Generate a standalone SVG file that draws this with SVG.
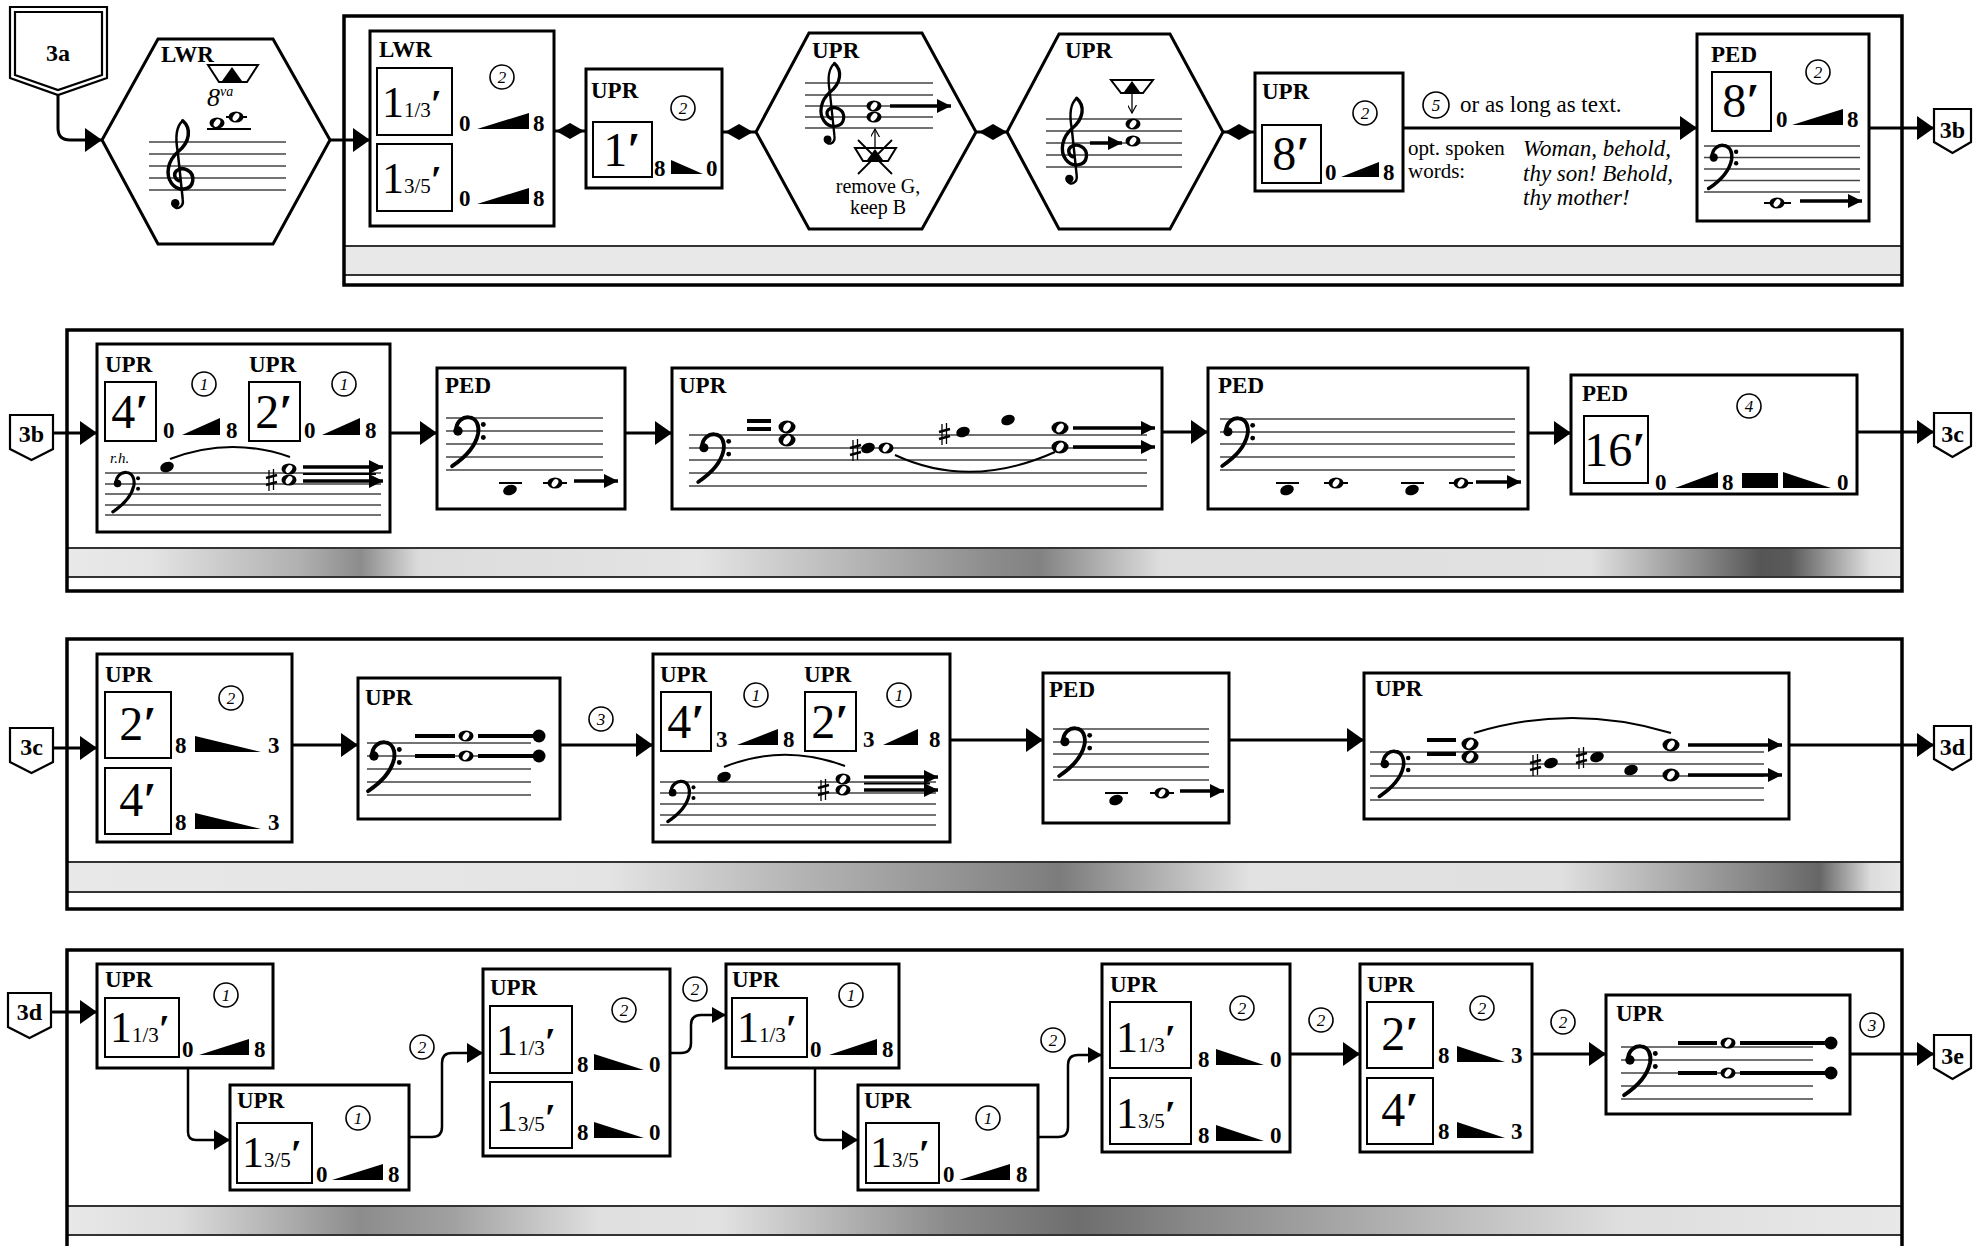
<svg xmlns="http://www.w3.org/2000/svg" width="1984" height="1246" viewBox="0 0 1984 1246">
<style>
.fr{fill:none;stroke:#000;stroke-width:3.5}
.bx{fill:#fff;stroke:#000;stroke-width:3}
.hx{fill:#fff;stroke:#000;stroke-width:3}
.ib{fill:none;stroke:#000;stroke-width:2}
.t{font-family:"Liberation Serif","DejaVu Serif",serif;fill:#000}
.lb{font-size:23px;font-weight:bold}
.n{font-size:23px;font-weight:bold}
.big{font-size:48px;text-anchor:middle}
.b44{font-size:44px}
.sub{font-size:21px}
.pr{font-weight:bold}
.ci{fill:#fff;stroke:#000;stroke-width:1.6}
.cn{font-size:17px;font-style:italic;text-anchor:middle}
.st{stroke:#444;stroke-width:1.5;fill:none}
.cx{fill:none;stroke:#000;stroke-width:3}
.cs{fill:none;stroke:#000;stroke-width:2.5}
.bd{stroke:#333;stroke-width:2;fill:none}
.ml{stroke:#000;stroke-width:3.5;fill:none}
.tl{stroke:#000;stroke-width:4;fill:none}
.sl{stroke:#000;stroke-width:2;fill:none}
.bg{font-size:24px;font-weight:bold;text-anchor:middle}
.bdg{fill:#fff;stroke:#000;stroke-width:2.2}
</style>
<defs>
<marker id="ah" viewBox="0 0 17 24" markerWidth="17" markerHeight="24" refX="17" refY="12" orient="auto" markerUnits="userSpaceOnUse"><path d="M0,0L17,12L0,24z"/></marker>
<marker id="ah2" viewBox="0 0 16 20" markerWidth="16" markerHeight="20" refX="16" refY="10" orient="auto" markerUnits="userSpaceOnUse"><path d="M0,0L16,10L0,20z"/></marker>
<marker id="ah3" viewBox="0 0 14 16" markerWidth="14" markerHeight="16" refX="14" refY="8" orient="auto" markerUnits="userSpaceOnUse"><path d="M0,0L14,8L0,16z"/></marker>
<marker id="mh" viewBox="0 0 12 12" markerWidth="14" markerHeight="14" refX="12" refY="6" orient="auto" markerUnits="userSpaceOnUse"><path d="M0,0L12,6L0,12z"/></marker>
<marker id="oh" viewBox="0 0 10 10" markerWidth="9" markerHeight="9" refX="9" refY="5" orient="auto" markerUnits="userSpaceOnUse"><path d="M0,0L9,5L0,10" fill="none" stroke="#000" stroke-width="1.3"/></marker>
<g id="gc">
<path d="M3,-17C10,-11 9,0 -1,8C-9,15 -11,26 -6,33C-1,40 10,39 11,31C12,23 3,19 -2,23C-5,26 -3,30 0,31" fill="none" stroke="#000" stroke-width="2.8" stroke-linecap="round"/>
<path d="M3,-17C-3,-12 -3,-3 -1,8L3,46C4,53 -3,55 -5,50" fill="none" stroke="#000" stroke-width="2" stroke-linecap="round"/>
<circle cx="-3" cy="49" r="3.4"/>
</g>
<g id="fc">
<path d="M0,10C0,2 6,-1 10,-0.5C16,0 18,6 17,12C15,22 6,31 -3,37" fill="none" stroke="#000" stroke-width="3" stroke-linecap="round"/>
<circle cx="1.5" cy="10" r="3.6"/>
<circle cx="21" cy="5" r="1.9"/>
<circle cx="21" cy="15" r="1.9"/>
</g>
<g id="wn"><ellipse rx="7.5" ry="5.5"/><ellipse rx="2.8" ry="4.2" transform="rotate(35)" fill="#fff"/></g>
<g id="wnb"><ellipse rx="8.5" ry="6.5"/><ellipse rx="3.2" ry="5" transform="rotate(35)" fill="#fff"/></g>
<g id="fn"><ellipse rx="7" ry="5" transform="rotate(-20)"/></g>
<g id="sh" stroke="#000"><line x1="-2" y1="-10" x2="-2" y2="11" stroke-width="1.3"/><line x1="2.5" y1="-11" x2="2.5" y2="10" stroke-width="1.3"/><line x1="-5" y1="-2" x2="6" y2="-5" stroke-width="2.6"/><line x1="-5" y1="5" x2="6" y2="2" stroke-width="2.6"/></g>
<linearGradient id="g2" gradientUnits="userSpaceOnUse" x1="67" y1="0" x2="1902" y2="0">
<stop offset="0" stop-color="#e9e9e9"/><stop offset="0.045" stop-color="#e4e4e4"/><stop offset="0.127" stop-color="#b0b0b0"/><stop offset="0.16" stop-color="#8c8c8c"/><stop offset="0.192" stop-color="#dcdcdc"/><stop offset="0.345" stop-color="#e4e4e4"/><stop offset="0.508" stop-color="#8a8a8a"/><stop offset="0.53" stop-color="#828282"/><stop offset="0.596" stop-color="#dedede"/><stop offset="0.83" stop-color="#e2e2e2"/><stop offset="0.89" stop-color="#8a8a8a"/><stop offset="0.923" stop-color="#555"/><stop offset="0.939" stop-color="#5a5a5a"/><stop offset="0.983" stop-color="#e0e0e0"/><stop offset="1" stop-color="#e8e8e8"/>
</linearGradient>
<linearGradient id="g3" gradientUnits="userSpaceOnUse" x1="67" y1="0" x2="1902" y2="0">
<stop offset="0" stop-color="#e8e8e8"/><stop offset="0.294" stop-color="#e4e4e4"/><stop offset="0.399" stop-color="#b4b4b4"/><stop offset="0.508" stop-color="#8a8a8a"/><stop offset="0.541" stop-color="#7c7c7c"/><stop offset="0.645" stop-color="#e2e2e2"/><stop offset="0.814" stop-color="#e0e0e0"/><stop offset="0.934" stop-color="#7a7a7a"/><stop offset="0.955" stop-color="#666"/><stop offset="0.983" stop-color="#dcdcdc"/><stop offset="1" stop-color="#e8e8e8"/>
</linearGradient>
<linearGradient id="g4" gradientUnits="userSpaceOnUse" x1="67" y1="0" x2="1902" y2="0">
<stop offset="0" stop-color="#e8e8e8"/><stop offset="0.062" stop-color="#dcdcdc"/><stop offset="0.16" stop-color="#8c8c8c"/><stop offset="0.209" stop-color="#a0a0a0"/><stop offset="0.29" stop-color="#e0e0e0"/><stop offset="0.356" stop-color="#e2e2e2"/><stop offset="0.481" stop-color="#8a8a8a"/><stop offset="0.552" stop-color="#6e6e6e"/><stop offset="0.617" stop-color="#8a8a8a"/><stop offset="0.846" stop-color="#dedede"/><stop offset="1" stop-color="#e8e8e8"/>
</linearGradient>
</defs>
<rect width="1984" height="1246" fill="#fff"/>

<g id="frames">
<rect x="344" y="246" width="1558" height="29" fill="#e8e8e8"/><path class="bd" d="M344,246H1902M344,275H1902"/>
<rect class="fr" x="344" y="16" width="1558" height="269"/>
<rect x="67" y="548" width="1835" height="29" fill="url(#g2)"/><path class="bd" d="M67,548H1902M67,577H1902"/>
<rect class="fr" x="67" y="330" width="1835" height="261"/>
<rect x="67" y="862" width="1835" height="30" fill="url(#g3)"/><path class="bd" d="M67,862H1902M67,892H1902"/>
<rect class="fr" x="67" y="639" width="1835" height="270"/>
<rect x="67" y="1206" width="1835" height="29" fill="url(#g4)"/><path class="bd" d="M67,1206H1902M67,1235H1902"/>
<rect class="fr" x="67" y="950" width="1835" height="320"/>
</g>

<g id="connectors">
<path class="cx" d="M58,95V128Q58,140 70,140H102" marker-end="url(#ah)"/>
<path class="cx" d="M330,140H370" marker-end="url(#ah)"/>
<path class="cx" d="M554,131H586M722,132H756M976,132H1007M1223,132H1255"/>
<polygon points="556,131 570,123 584,131 570,139"/>
<polygon points="725,132 739,124 753,132 739,140"/>
<polygon points="979,132 993,124 1007,132 993,140"/>
<polygon points="1225,132 1239,124 1253,132 1239,140"/>
<path class="cx" d="M1403,128H1697" marker-end="url(#ah)"/>
<path class="cx" d="M1869,128H1934" marker-end="url(#ah)"/>
<path class="cx" d="M53,433H97" marker-end="url(#ah)"/>
<path class="cx" d="M390,433H437" marker-end="url(#ah)"/>
<path class="cx" d="M625,433H672" marker-end="url(#ah)"/>
<path class="cx" d="M1162,432H1208" marker-end="url(#ah)"/>
<path class="cx" d="M1528,433H1571" marker-end="url(#ah)"/>
<path class="cx" d="M1857,432H1934" marker-end="url(#ah)"/>
<path class="cx" d="M53,748H97" marker-end="url(#ah)"/>
<path class="cx" d="M292,745H358" marker-end="url(#ah)"/>
<path class="cx" d="M560,745H653" marker-end="url(#ah)"/>
<path class="cx" d="M950,740H1043" marker-end="url(#ah)"/>
<path class="cx" d="M1229,740H1364" marker-end="url(#ah)"/>
<path class="cx" d="M1789,745H1934" marker-end="url(#ah)"/>
<path class="cx" d="M51,1012H97" marker-end="url(#ah)"/>
<path class="cs" d="M188,1068V1132Q188,1140 196,1140H230" marker-end="url(#ah2)"/>
<path class="cs" d="M409,1137H432Q442,1137 442,1127V1063Q442,1053 452,1053H483" marker-end="url(#ah2)"/>
<path class="cs" d="M670,1053H681Q691,1053 691,1043V1025Q691,1015 701,1015H726" marker-end="url(#ah3)"/>
<path class="cs" d="M815,1068V1132Q815,1140 823,1140H858" marker-end="url(#ah2)"/>
<path class="cs" d="M1038,1137H1058Q1068,1137 1068,1127V1065Q1068,1055 1078,1055H1102" marker-end="url(#ah3)"/>
<path class="cx" d="M1290,1054H1360" marker-end="url(#ah)"/>
<path class="cx" d="M1532,1054H1606" marker-end="url(#ah)"/>
<path class="cx" d="M1850,1054H1934" marker-end="url(#ah)"/>
<g><circle class="ci" cx="1436" cy="105" r="13"/><text class="t cn" x="1436" y="111">5</text></g>
<text class="t" x="1460" y="112" font-size="23">or as long as text.</text>
<text class="t" x="1408" y="155" font-size="21">opt. spoken</text>
<text class="t" x="1408" y="178" font-size="21">words:</text>
<text class="t" x="1523" y="156" font-size="23" font-style="italic">Woman, behold,</text>
<text class="t" x="1523" y="181" font-size="23" font-style="italic">thy son! Behold,</text>
<text class="t" x="1523" y="205" font-size="23" font-style="italic">thy mother!</text>
<g><circle class="ci" cx="601" cy="719" r="12"/><text class="t cn" x="601" y="725">3</text></g>
<g><circle class="ci" cx="422" cy="1047" r="12"/><text class="t cn" x="422" y="1053">2</text></g>
<g><circle class="ci" cx="695" cy="989" r="12"/><text class="t cn" x="695" y="995">2</text></g>
<g><circle class="ci" cx="1053" cy="1040" r="12"/><text class="t cn" x="1053" y="1046">2</text></g>
<g><circle class="ci" cx="1321" cy="1020" r="12"/><text class="t cn" x="1321" y="1026">2</text></g>
<g><circle class="ci" cx="1563" cy="1022" r="12"/><text class="t cn" x="1563" y="1028">2</text></g>
<g><circle class="ci" cx="1872" cy="1025" r="12"/><text class="t cn" x="1872" y="1031">3</text></g>
</g>

<!-- badges -->
<g id="badge-3a">
<polygon class="bdg" points="10,7 107,7 107,78 58,95 10,78"/>
<polygon points="15,12 102,12 102,75 58,90 15,75" fill="none" stroke="#000" stroke-width="2.2"/>
<text class="t bg" x="58" y="61" font-size="26">3a</text>
</g>
<g id="badge-3b-out"><polygon class="bdg" points="1934,109 1971,109 1971,142 1952.5,153 1934,142"/><text class="t bg" x="1952.5" y="138">3b</text></g>
<g id="badge-3b-in"><polygon class="bdg" points="10,415 53,415 53,449 31.5,460 10,449"/><text class="t bg" x="31.5" y="442">3b</text></g>
<g id="badge-3c-out"><polygon class="bdg" points="1934,413 1971,413 1971,446 1952.5,457 1934,446"/><text class="t bg" x="1952.5" y="442">3c</text></g>
<g id="badge-3c-in"><polygon class="bdg" points="10,728 53,728 53,762 31.5,773 10,762"/><text class="t bg" x="31.5" y="755">3c</text></g>
<g id="badge-3d-out"><polygon class="bdg" points="1934,726 1971,726 1971,759 1952.5,770 1934,759"/><text class="t bg" x="1952.5" y="755">3d</text></g>
<g id="badge-3d-in"><polygon class="bdg" points="8,993 51,993 51,1027 29.5,1038 8,1027"/><text class="t bg" x="29.5" y="1020">3d</text></g>
<g id="badge-3e"><polygon class="bdg" points="1934,1035 1971,1035 1971,1068 1952.5,1079 1934,1068"/><text class="t bg" x="1952.5" y="1064">3e</text></g>

<!-- ROW 1 -->
<g id="hex-lwr">
<polygon class="hx" points="158,39 273,39 330,140 273,244 158,244 102,140"/>
<path class="st" d="M149,142H286M149,154H286M149,166H286M149,178H286M149,190H286"/>
<use href="#gc" transform="translate(179,142) scale(1.25)"/>
<polygon points="208,65 258,65 247,82 219,82" fill="#fff" stroke="#000" stroke-width="2"/>
<polygon points="232,67 242,81 222,81"/>
<text class="t lb" x="161" y="62">LWR</text>
<text class="t" x="207" y="106" font-size="26" font-style="italic">8<tspan font-size="14" dy="-10">va</tspan></text>
<path class="sl" d="M207,129H251M226,117H247"/>
<use href="#wn" x="217" y="123"/>
<use href="#wn" x="236" y="117"/>
</g>

<g id="box-lwr">
<rect class="bx" x="370" y="31" width="184" height="195"/>
<text class="t lb" x="379" y="57">LWR</text>
<g><circle class="ci" cx="502" cy="77" r="12"/><text class="t cn" x="502" y="83">2</text></g>
<rect class="ib" x="377" y="68" width="75" height="67"/>
<text class="t b44" x="382" y="117">1<tspan class="sub">1/3</tspan><tspan class="pr" font-size="40">′</tspan></text>
<text class="t n" x="459" y="131">0</text><polygon points="477,129 529,113 529,129"/><text class="t n" x="533" y="131">8</text>
<rect class="ib" x="377" y="144" width="75" height="67"/>
<text class="t b44" x="382" y="193">1<tspan class="sub">3/5</tspan><tspan class="pr" font-size="40">′</tspan></text>
<text class="t n" x="459" y="206">0</text><polygon points="477,204 529,188 529,204"/><text class="t n" x="533" y="206">8</text>
</g>

<g id="box-upr-1">
<rect class="bx" x="586" y="69" width="136" height="119"/>
<text class="t lb" x="591" y="98">UPR</text>
<g><circle class="ci" cx="683" cy="108" r="12"/><text class="t cn" x="683" y="114">2</text></g>
<rect class="ib" x="593" y="122" width="59" height="55"/>
<text class="t big" x="622" y="166" font-size="46">1<tspan class="pr">′</tspan></text>
<text class="t n" x="654" y="176">8</text><polygon points="671,160 671,174 703,174"/><text class="t n" x="706" y="176">0</text>
</g>

<g id="hex-upr-a">
<polygon class="hx" points="809,33 922,33 976,132 922,229 809,229 756,132"/>
<text class="t lb" x="812" y="58">UPR</text>
<path class="st" d="M805,83H933M805,95H933M805,106H933M805,117H933M805,128H933"/>
<use href="#gc" transform="translate(831,83) scale(1.15)"/>
<use href="#wn" x="874" y="106"/>
<use href="#wn" x="874" y="117"/>
<path class="ml" d="M890,106H951" marker-end="url(#mh)"/>
<path d="M875,147V129" stroke="#000" stroke-width="1.3" marker-end="url(#oh)"/>
<polygon points="855,148 896,148 888,161 863,161" fill="#fff" stroke="#000" stroke-width="2"/>
<polygon points="875,149 883,160 867,160"/>
<path d="M858,140L892,174M892,140L858,174" stroke="#000" stroke-width="1.8"/>
<text class="t" x="878" y="193" font-size="20" text-anchor="middle">remove G,</text>
<text class="t" x="878" y="214" font-size="20" text-anchor="middle">keep B</text>
</g>

<g id="hex-upr-b">
<polygon class="hx" points="1059,34 1170,34 1223,132 1170,229 1059,229 1007,132"/>
<text class="t lb" x="1065" y="58">UPR</text>
<polygon points="1111,80 1153,80 1143,93 1121,93" fill="#fff" stroke="#000" stroke-width="2"/>
<polygon points="1132,81 1140,92 1124,92"/>
<path d="M1132,94V113" stroke="#000" stroke-width="1.3" marker-end="url(#oh)"/>
<path class="st" d="M1046,119H1182M1046,131H1182M1046,143H1182M1046,155H1182M1046,167H1182"/>
<use href="#gc" transform="translate(1073,119) scale(1.22)"/>
<path class="ml" d="M1090,143H1122" marker-end="url(#mh)"/>
<use href="#wn" x="1133" y="124"/>
<use href="#wn" x="1133" y="141"/>
</g>

<g id="box-upr-8">
<rect class="bx" x="1255" y="73" width="148" height="118"/>
<text class="t lb" x="1262" y="99">UPR</text>
<g><circle class="ci" cx="1365" cy="113" r="12"/><text class="t cn" x="1365" y="119">2</text></g>
<rect class="ib" x="1262" y="125" width="59" height="58"/>
<text class="t big" x="1291" y="170" font-size="48">8<tspan class="pr">′</tspan></text>
<text class="t n" x="1325" y="180">0</text><polygon points="1341,177 1379,162 1379,177"/><text class="t n" x="1383" y="180">8</text>
</g>

<g id="box-ped-1">
<rect class="bx" x="1697" y="34" width="172" height="187"/>
<text class="t lb" x="1711" y="62">PED</text>
<g><circle class="ci" cx="1818" cy="72" r="12"/><text class="t cn" x="1818" y="78">2</text></g>
<rect class="ib" x="1712" y="72" width="59" height="59"/>
<text class="t big" x="1741" y="117">8<tspan class="pr">′</tspan></text>
<text class="t n" x="1776" y="127">0</text><polygon points="1792,125 1843,109 1843,125"/><text class="t n" x="1847" y="127">8</text>
<path class="st" d="M1704,146H1860M1704,157.5H1860M1704,169H1860M1704,180.5H1860M1704,192H1860"/>
<use href="#fc" transform="translate(1712,146) scale(1.15)"/>
<path class="sl" d="M1764,203H1791"/>
<use href="#wn" x="1777" y="203"/>
<path class="ml" d="M1800,201H1862" marker-end="url(#mh)"/>
</g>

<!-- ROW 2 -->
<g id="box-r2-1">
<rect class="bx" x="97" y="344" width="293" height="188"/>
<text class="t lb" x="105" y="372">UPR</text>
<text class="t lb" x="249" y="372">UPR</text>
<g><circle class="ci" cx="204" cy="384" r="12"/><text class="t cn" x="204" y="390">1</text></g>
<g><circle class="ci" cx="344" cy="384" r="12"/><text class="t cn" x="344" y="390">1</text></g>
<rect class="ib" x="105" y="382" width="51" height="59"/>
<text class="t big" x="130" y="428">4<tspan class="pr">′</tspan></text>
<text class="t n" x="163" y="438">0</text><polygon points="182,435 220,418 220,435"/><text class="t n" x="226" y="438">8</text>
<rect class="ib" x="249" y="382" width="51" height="59"/>
<text class="t big" x="274" y="428">2<tspan class="pr">′</tspan></text>
<text class="t n" x="304" y="438">0</text><polygon points="322,435 360,418 360,435"/><text class="t n" x="365" y="438">8</text>
<path class="st" d="M105,473H381M105,484H381M105,494H381M105,505H381M105,515H381"/>
<text class="t" x="110" y="463" font-size="15" font-style="italic">r.h.</text>
<use href="#fc" transform="translate(116,473) scale(1.05)"/>
<use href="#fn" x="167" y="467"/>
<path class="sl" d="M170,459Q230,436 290,457"/>
<use href="#sh" x="271" y="480"/>
<use href="#wn" x="289" y="469"/>
<use href="#wn" x="289" y="480"/>
<path class="ml" d="M303,467H383" marker-end="url(#mh)"/>
<path class="ml" d="M303,481H383" marker-end="url(#mh)"/>
<path d="M303,474H376" stroke="#000" stroke-width="2"/>
</g>

<g id="box-r2-ped-a">
<rect class="bx" x="437" y="368" width="188" height="141"/>
<text class="t lb" x="445" y="393">PED</text>
<path class="st" d="M446,418H603M446,431H603M446,444H603M446,457H603M446,470H603"/>
<use href="#fc" transform="translate(456,418) scale(1.3)"/>
<path class="sl" d="M499,483H522M543,483H567"/>
<use href="#fn" x="510" y="490"/>
<use href="#wn" x="555" y="483"/>
<path class="ml" d="M574,481H618" marker-end="url(#mh)"/>
</g>

<g id="box-r2-upr-wide">
<rect class="bx" x="672" y="368" width="490" height="141"/>
<text class="t lb" x="679" y="393">UPR</text>
<path class="st" d="M689,435H1147M689,448H1147M689,460H1147M689,473H1147M689,486H1147"/>
<use href="#fc" transform="translate(702,435) scale(1.27)"/>
<path class="tl" d="M747,421H771M747,429H771"/>
<use href="#wnb" x="787" y="427"/>
<use href="#wnb" x="787" y="440"/>
<use href="#sh" x="855" y="450"/>
<use href="#fn" x="868" y="448"/>
<use href="#wn" x="886" y="448"/>
<use href="#sh" x="944" y="434"/>
<use href="#fn" x="963" y="432"/>
<use href="#fn" x="1008" y="420"/>
<path class="sl" d="M895,455Q970,490 1055,452"/>
<use href="#wnb" x="1060" y="428"/>
<use href="#wnb" x="1060" y="447"/>
<path class="ml" d="M1073,428H1155" marker-end="url(#mh)"/>
<path class="ml" d="M1073,447H1155" marker-end="url(#mh)"/>
</g>

<g id="box-r2-ped-b">
<rect class="bx" x="1208" y="368" width="320" height="141"/>
<text class="t lb" x="1218" y="393">PED</text>
<path class="st" d="M1220,419H1515M1220,432H1515M1220,444H1515M1220,457H1515M1220,470H1515"/>
<use href="#fc" transform="translate(1226,419) scale(1.27)"/>
<path class="sl" d="M1276,483H1299M1324,483H1348M1401,483H1424M1449,483H1473"/>
<use href="#fn" x="1287" y="490"/>
<use href="#wn" x="1336" y="483"/>
<use href="#fn" x="1412" y="490"/>
<use href="#wn" x="1461" y="483"/>
<path class="ml" d="M1476,482H1521" marker-end="url(#mh)"/>
</g>

<g id="box-r2-ped-16">
<rect class="bx" x="1571" y="375" width="286" height="119"/>
<text class="t lb" x="1582" y="401">PED</text>
<g><circle class="ci" cx="1749" cy="406" r="12"/><text class="t cn" x="1749" y="412">4</text></g>
<rect class="ib" x="1584" y="416" width="64" height="67"/>
<text class="t big" x="1615" y="466" font-size="44">16<tspan class="pr">′</tspan></text>
<text class="t n" x="1655" y="490">0</text><polygon points="1675,488 1718,472 1718,488"/><text class="t n" x="1722" y="490">8</text>
<rect x="1742" y="473" width="36" height="15"/>
<polygon points="1783,472 1783,488 1831,488"/><text class="t n" x="1837" y="490">0</text>
</g>

<!-- ROW 3 -->
<g id="box-r3-1">
<rect class="bx" x="97" y="654" width="195" height="188"/>
<text class="t lb" x="105" y="682">UPR</text>
<g><circle class="ci" cx="231" cy="698" r="12"/><text class="t cn" x="231" y="704">2</text></g>
<rect class="ib" x="105" y="692" width="66" height="66"/>
<text class="t big" x="138" y="740">2<tspan class="pr">′</tspan></text>
<text class="t n" x="175" y="753">8</text><polygon points="195,736 195,752 261,752"/><text class="t n" x="268" y="753">3</text>
<rect class="ib" x="105" y="768" width="66" height="66"/>
<text class="t big" x="138" y="816">4<tspan class="pr">′</tspan></text>
<text class="t n" x="175" y="830">8</text><polygon points="195,813 195,829 261,829"/><text class="t n" x="268" y="830">3</text>
</g>

<g id="box-r3-ties">
<rect class="bx" x="358" y="678" width="202" height="141"/>
<text class="t lb" x="365" y="705">UPR</text>
<path class="st" d="M367,743H531M367,756H531M367,769H531M367,782H531M367,795H531"/>
<use href="#fc" transform="translate(372,743) scale(1.3)"/>
<path class="tl" d="M415,736H455M478,736H536M415,756H455M478,756H536"/>
<use href="#wn" x="466" y="736"/>
<use href="#wn" x="466" y="756"/>
<circle cx="539" cy="736" r="6.5"/><circle cx="539" cy="756" r="6.5"/>
</g>

<g id="box-r3-3">
<rect class="bx" x="653" y="654" width="297" height="188"/>
<text class="t lb" x="660" y="682">UPR</text>
<text class="t lb" x="804" y="682">UPR</text>
<g><circle class="ci" cx="756" cy="695" r="12"/><text class="t cn" x="756" y="701">1</text></g>
<g><circle class="ci" cx="899" cy="695" r="12"/><text class="t cn" x="899" y="701">1</text></g>
<rect class="ib" x="661" y="692" width="50" height="59"/>
<text class="t big" x="686" y="738">4<tspan class="pr">′</tspan></text>
<text class="t n" x="716" y="747">3</text><polygon points="737,745 778,729 778,745"/><text class="t n" x="783" y="747">8</text>
<rect class="ib" x="805" y="692" width="51" height="59"/>
<text class="t big" x="830" y="738">2<tspan class="pr">′</tspan></text>
<text class="t n" x="863" y="747">3</text><polygon points="883,745 918,729 918,745"/><text class="t n" x="929" y="747">8</text>
<path class="st" d="M660,782H936M660,793H936M660,804H936M660,815H936M660,825H936"/>
<use href="#fc" transform="translate(671,782) scale(1.07)"/>
<use href="#fn" x="724" y="777"/>
<path class="sl" d="M724,767Q783,743 845,766"/>
<use href="#sh" x="823" y="790"/>
<use href="#wn" x="843" y="779"/>
<use href="#wn" x="843" y="790"/>
<path class="ml" d="M864,777H938" marker-end="url(#mh)"/>
<path class="ml" d="M864,790H938" marker-end="url(#mh)"/>
<path d="M864,783.5H930" stroke="#000" stroke-width="2"/>
</g>

<g id="box-r3-ped">
<rect class="bx" x="1043" y="673" width="186" height="150"/>
<text class="t lb" x="1049" y="697">PED</text>
<path class="st" d="M1053,729H1209M1053,742H1209M1053,754H1209M1053,767H1209M1053,780H1209"/>
<use href="#fc" transform="translate(1063,729) scale(1.27)"/>
<path class="sl" d="M1105,793H1128M1150,793H1174"/>
<use href="#fn" x="1116" y="800"/>
<use href="#wn" x="1162" y="793"/>
<path class="ml" d="M1180,791H1224" marker-end="url(#mh)"/>
</g>

<g id="box-r3-upr-wide">
<rect class="bx" x="1364" y="673" width="425" height="146"/>
<text class="t lb" x="1375" y="696">UPR</text>
<path class="st" d="M1370,752H1764M1370,764H1764M1370,776H1764M1370,788H1764M1370,800H1764"/>
<use href="#fc" transform="translate(1383,752) scale(1.2)"/>
<path class="tl" d="M1427,740H1456M1427,754H1456"/>
<use href="#wnb" x="1470" y="744"/>
<use href="#wnb" x="1470" y="757"/>
<path class="sl" d="M1474,733Q1572,703 1671,733"/>
<use href="#sh" x="1535" y="765"/>
<use href="#fn" x="1551" y="763"/>
<use href="#sh" x="1581" y="758"/>
<use href="#fn" x="1597" y="757"/>
<use href="#fn" x="1631" y="770"/>
<use href="#wnb" x="1671" y="745"/>
<use href="#wnb" x="1671" y="775"/>
<path class="ml" d="M1688,745H1782" marker-end="url(#mh)"/>
<path class="ml" d="M1688,775H1782" marker-end="url(#mh)"/>
</g>

<!-- ROW 4 -->
<g id="box-r4-a">
<rect class="bx" x="97" y="964" width="176" height="104"/>
<text class="t lb" x="105" y="987">UPR</text>
<g><circle class="ci" cx="226" cy="995" r="12"/><text class="t cn" x="226" y="1001">1</text></g>
<rect class="ib" x="105" y="998" width="74" height="59"/>
<text class="t b44" x="110" y="1042">1<tspan class="sub">1/3</tspan><tspan class="pr" font-size="40">′</tspan></text>
<text class="t n" x="182" y="1057">0</text><polygon points="199,1055 249,1039 249,1055"/><text class="t n" x="254" y="1057">8</text>
</g>
<g id="box-r4-b">
<rect class="bx" x="230" y="1085" width="179" height="105"/>
<text class="t lb" x="237" y="1108">UPR</text>
<g><circle class="ci" cx="358" cy="1118" r="12"/><text class="t cn" x="358" y="1124">1</text></g>
<rect class="ib" x="237" y="1123" width="75" height="60"/>
<text class="t b44" x="242" y="1167">1<tspan class="sub">3/5</tspan><tspan class="pr" font-size="40">′</tspan></text>
<text class="t n" x="316" y="1182">0</text><polygon points="332,1180 383,1164 383,1180"/><text class="t n" x="388" y="1182">8</text>
</g>
<g id="box-r4-c">
<rect class="bx" x="483" y="969" width="187" height="187"/>
<text class="t lb" x="490" y="995">UPR</text>
<g><circle class="ci" cx="624" cy="1010" r="12"/><text class="t cn" x="624" y="1016">2</text></g>
<rect class="ib" x="490" y="1006" width="82" height="67"/>
<text class="t b44" x="496" y="1055">1<tspan class="sub">1/3</tspan><tspan class="pr" font-size="40">′</tspan></text>
<text class="t n" x="577" y="1072">8</text><polygon points="594,1054 594,1070 644,1070"/><text class="t n" x="649" y="1072">0</text>
<rect class="ib" x="490" y="1082" width="82" height="66"/>
<text class="t b44" x="496" y="1131">1<tspan class="sub">3/5</tspan><tspan class="pr" font-size="40">′</tspan></text>
<text class="t n" x="577" y="1140">8</text><polygon points="594,1122 594,1138 644,1138"/><text class="t n" x="649" y="1140">0</text>
</g>
<g id="box-r4-d">
<rect class="bx" x="726" y="964" width="173" height="104"/>
<text class="t lb" x="732" y="987">UPR</text>
<g><circle class="ci" cx="851" cy="995" r="12"/><text class="t cn" x="851" y="1001">1</text></g>
<rect class="ib" x="732" y="998" width="75" height="59"/>
<text class="t b44" x="737" y="1042">1<tspan class="sub">1/3</tspan><tspan class="pr" font-size="40">′</tspan></text>
<text class="t n" x="810" y="1057">0</text><polygon points="829,1055 877,1039 877,1055"/><text class="t n" x="882" y="1057">8</text>
</g>
<g id="box-r4-e">
<rect class="bx" x="858" y="1085" width="180" height="105"/>
<text class="t lb" x="864" y="1108">UPR</text>
<g><circle class="ci" cx="988" cy="1118" r="12"/><text class="t cn" x="988" y="1124">1</text></g>
<rect class="ib" x="866" y="1123" width="73" height="60"/>
<text class="t b44" x="870" y="1167">1<tspan class="sub">3/5</tspan><tspan class="pr" font-size="40">′</tspan></text>
<text class="t n" x="943" y="1182">0</text><polygon points="959,1180 1010,1164 1010,1180"/><text class="t n" x="1016" y="1182">8</text>
</g>
<g id="box-r4-f">
<rect class="bx" x="1102" y="964" width="188" height="188"/>
<text class="t lb" x="1110" y="992">UPR</text>
<g><circle class="ci" cx="1242" cy="1008" r="12"/><text class="t cn" x="1242" y="1014">2</text></g>
<rect class="ib" x="1110" y="1002" width="81" height="66"/>
<text class="t b44" x="1116" y="1052">1<tspan class="sub">1/3</tspan><tspan class="pr" font-size="40">′</tspan></text>
<text class="t n" x="1198" y="1067">8</text><polygon points="1216,1049 1216,1065 1264,1065"/><text class="t n" x="1270" y="1067">0</text>
<rect class="ib" x="1110" y="1078" width="81" height="66"/>
<text class="t b44" x="1116" y="1128">1<tspan class="sub">3/5</tspan><tspan class="pr" font-size="40">′</tspan></text>
<text class="t n" x="1198" y="1143">8</text><polygon points="1216,1125 1216,1141 1264,1141"/><text class="t n" x="1270" y="1143">0</text>
</g>
<g id="box-r4-g">
<rect class="bx" x="1360" y="964" width="172" height="188"/>
<text class="t lb" x="1367" y="992">UPR</text>
<g><circle class="ci" cx="1482" cy="1008" r="12"/><text class="t cn" x="1482" y="1014">2</text></g>
<rect class="ib" x="1367" y="1002" width="66" height="66"/>
<text class="t big" x="1400" y="1050">2<tspan class="pr">′</tspan></text>
<text class="t n" x="1438" y="1063">8</text><polygon points="1457,1046 1457,1062 1505,1062"/><text class="t n" x="1511" y="1063">3</text>
<rect class="ib" x="1367" y="1078" width="66" height="66"/>
<text class="t big" x="1400" y="1126">4<tspan class="pr">′</tspan></text>
<text class="t n" x="1438" y="1139">8</text><polygon points="1457,1122 1457,1138 1505,1138"/><text class="t n" x="1511" y="1139">3</text>
</g>
<g id="box-r4-h">
<rect class="bx" x="1606" y="995" width="244" height="119"/>
<text class="t lb" x="1616" y="1021">UPR</text>
<path class="st" d="M1621,1047H1813M1621,1060H1813M1621,1073H1813M1621,1086H1813M1621,1099H1813"/>
<use href="#fc" transform="translate(1628,1047) scale(1.3)"/>
<path class="tl" d="M1678,1043H1717M1740,1043H1825M1678,1073H1717M1740,1073H1825"/>
<use href="#wn" x="1728" y="1043"/>
<use href="#wn" x="1728" y="1073"/>
<circle cx="1831" cy="1043" r="6.5"/><circle cx="1831" cy="1073" r="6.5"/>
</g>
</svg>
